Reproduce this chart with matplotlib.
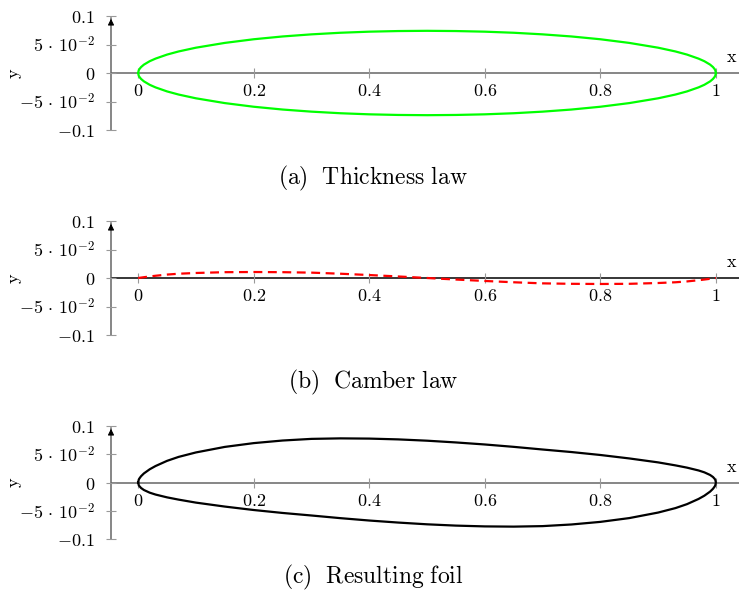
import numpy as np
import matplotlib
matplotlib.use("Agg")
import matplotlib.pyplot as plt

plt.rcParams['mathtext.fontset'] = 'cm'
plt.rcParams['font.family'] = 'serif'
plt.rcParams['font.serif'] = ['DejaVu Serif']

# chord positions (shared by both laws)
x_pos = [0, 0.001, 0.002, 0.005, 0.01, 0.02, 0.03, 0.05, 0.07, 0.1, 0.15, 0.2, 0.25, 0.3, 0.35,
         0.4, 0.45, 0.5, 0.55, 0.6, 0.65, 0.7, 0.75, 0.8, 0.85, 0.9, 0.93, 0.95, 0.97, 0.98,
         0.99, 0.995, 0.998, 0.999, 1]
# half thickness
thickness = [0, 0.0047, 0.0066, 0.0104, 0.0147, 0.0207, 0.0252, 0.0323, 0.0378, 0.0444, 0.0528,
             0.0592, 0.0641, 0.0678, 0.0706, 0.0725, 0.0736, 0.074, 0.0736, 0.0725, 0.0706,
             0.0678, 0.0641, 0.0592, 0.0528, 0.0444, 0.0378, 0.0323, 0.0252, 0.0207, 0.0147,
             0.0104, 0.0066, 0.0047, 0]
# camber
camber = [0, 0.00014, 0.0003, 0.0007, 0.0014, 0.0027, 0.0039, 0.006, 0.0075, 0.0088, 0.0102,
          0.0105, 0.0102, 0.0094, 0.0075, 0.0052, 0.0027, 0, -0.0027, -0.0052, -0.0075,
          -0.0094, -0.0102, -0.0105, -0.0102, -0.0088, -0.0075, -0.006, -0.0039, -0.0027,
          -0.0014, -0.0007, -0.0003, -0.00014, 0]

xticks = [0, 0.2, 0.4, 0.6, 0.8, 1]
xtick_labels = ['$0$', '$0.2$', '$0.4$', '$0.6$', '$0.8$', '$1$']
yticks = [-0.1, -0.05, 0, 0.05, 0.1]
ytick_labels = [r'$-0.1$', r'$-5\,\cdot\,10^{-2}$', '$0$', r'$5\,\cdot\,10^{-2}$', '$0.1$']
captions = [r'$\mathrm{(a)\ \ Thickness\ law}$', r'$\mathrm{(b)\ \ Camber\ law}$',
            r'$\mathrm{(c)\ \ Resulting\ foil}$']

x = np.array(x_pos)
t = np.array(thickness)
c = np.array(camber)

W, H = 739, 598
fig = plt.figure(figsize=(W / 100, H / 100), dpi=100)

panel_top = [16, 221, 426]      # pixel row of y=0.1
panel_bot = [130, 335, 539]     # pixel row of y=-0.1
caption_y = [178, 382, 577]
ax_left, ax_right = 111, 739
gray = '#666666'

axes = []
for i in range(3):
    ax = fig.add_axes([ax_left / W, 1 - panel_bot[i] / H,
                       (ax_right - ax_left) / W, (panel_bot[i] - panel_top[i]) / H])
    ax.set_xlim(-0.047, 1.04)
    ax.set_ylim(-0.1, 0.1)
    for s in ['top', 'right', 'bottom', 'left']:
        ax.spines[s].set_visible(False)
    ax.set_facecolor('none')
    ax_col = 'black' if i == 1 else gray
    ax.axhline(0, color=ax_col, lw=1.1, zorder=1)
    ax.plot([0, 0], [0, 0.985], transform=ax.transAxes, color=gray, lw=1.1, clip_on=False, zorder=1)
    ax.annotate('', xy=(0, 1.0), xytext=(0, 0.9), xycoords='axes fraction',
                arrowprops=dict(arrowstyle='-|>', color='black', lw=0.8,
                                mutation_scale=9), annotation_clip=False)
    ax.set_xticks(xticks)
    ax.set_xticklabels(xtick_labels)
    ax.set_yticks(yticks)
    ax.set_yticklabels(ytick_labels)
    ax.tick_params(axis='both', direction='inout', length=7, width=0.8, color='#999999',
                   labelsize=13)
    ax.tick_params(axis='x', pad=3)
    ax.tick_params(axis='y', pad=8)
    ax.spines['bottom'].set_position(('data', 0))
    ax.text(1.027, 0.012, r'$\mathrm{x}$', fontsize=13, ha='center', va='bottom')
    fig.text(15 / W, 1 - (panel_top[i] + panel_bot[i]) / 2 / H, r'$\mathrm{y}$',
             rotation=90, fontsize=13, ha='center', va='center')
    fig.text(373 / W, 1 - caption_y[i] / H, captions[i], fontsize=17,
             ha='center', va='center')
    axes.append(ax)

ax_a, ax_b, ax_c = axes
ax_a.plot(x, t, color=(0, 1, 0), lw=1.6, zorder=3)
ax_a.plot(x, -t, color=(0, 1, 0), lw=1.6, zorder=3)

ax_b.plot(x, c, color='red', lw=1.6, ls=(0, (4, 2.5)), zorder=3)

upper = c + t
lower = c - t
ax_c.plot(np.concatenate([x, x[::-1]]), np.concatenate([upper, lower[::-1]]),
          color='black', lw=1.6, zorder=3)

fig.savefig('out.png', dpi=100)
